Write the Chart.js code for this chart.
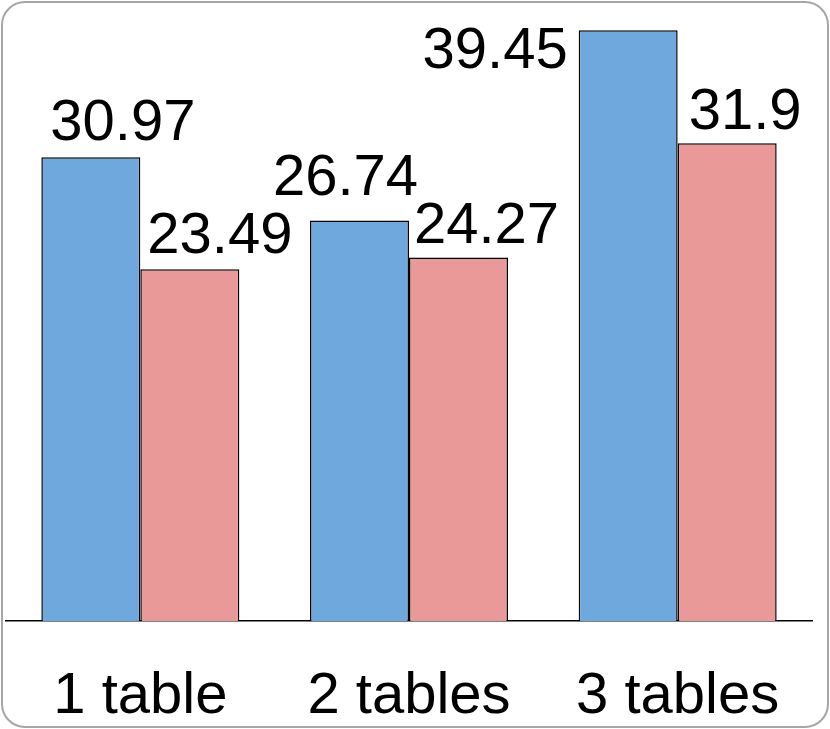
<!DOCTYPE html>
<html>
<head>
<meta charset="utf-8">
<script src="https://cdn.jsdelivr.net/npm/chart.js@4.4.1/dist/chart.umd.min.js"></script>
<style>
  html, body { margin: 0; padding: 0; background: #fff; }
  #wrap { position: relative; width: 830px; height: 729px; }
  #frame {
    position: absolute; left: 1px; top: 1px; width: 824px; height: 723px;
    border: 2px solid #a6a6a6; border-radius: 24px; pointer-events: none;
  }
  canvas { position: absolute; left: 0; top: 0; }
</style>
</head>
<body>
<div id="wrap">
  <canvas id="chart" width="830" height="729"></canvas>
  <div id="frame"></div>
</div>
<script>
// data
const categories = ['1 table', '2 tables', '3 tables'];
const seriesBlue = [30.97, 26.74, 39.45];
const seriesPink = [23.49, 24.27, 31.9];

// where each value label sits relative to the top centre of its bar
const labelShift = [
  [[32, -17], [-14, -26], [-133, 38]],
  [[30, -16], [28, -15], [18, -14]]
];

const valueLabels = {
  id: 'valueLabels',
  afterDatasetsDraw(chart) {
    const ctx = chart.ctx;
    ctx.save();
    ctx.font = '58px "Liberation Sans", Arial, sans-serif';
    ctx.fillStyle = '#000';
    ctx.textAlign = 'center';
    ctx.textBaseline = 'alphabetic';
    chart.data.datasets.forEach((ds, i) => {
      chart.getDatasetMeta(i).data.forEach((bar, j) => {
        const s = labelShift[i][j];
        ctx.fillText(String(ds.data[j]), bar.x + s[0], bar.y + s[1]);
      });
    });
    ctx.restore();
  }
};

new Chart(document.getElementById('chart'), {
  type: 'bar',
  data: {
    labels: categories,
    datasets: [{
      data: seriesBlue,
      backgroundColor: '#6fa8dc',
      borderColor: '#000',
      borderWidth: 1.5
    }, {
      data: seriesPink,
      backgroundColor: '#ea9999',
      borderColor: '#000',
      borderWidth: 1.5
    }]
  },
  options: {
    responsive: false,
    animation: false,
    layout: {
      padding: { left: 6, right: 18, top: 7, bottom: 3 }
    },
    datasets: {
      bar: { barPercentage: 1, categoryPercentage: 0.737 }
    },
    plugins: {
      legend: { display: false },
      tooltip: { enabled: false }
    },
    scales: {
      x: {
        grid: { display: false, drawTicks: false },
        border: { display: true, color: '#000', width: 1.5 },
        ticks: {
          color: '#000',
          padding: 41,
          font: { family: '"Liberation Sans", Arial, sans-serif', size: 58 }
        },
        afterFit(scale) {
          scale.height = 105;
        }
      },
      y: {
        display: false,
        min: 0,
        max: 41
      }
    }
  },
  plugins: [valueLabels]
});
</script>
</body>
</html>
